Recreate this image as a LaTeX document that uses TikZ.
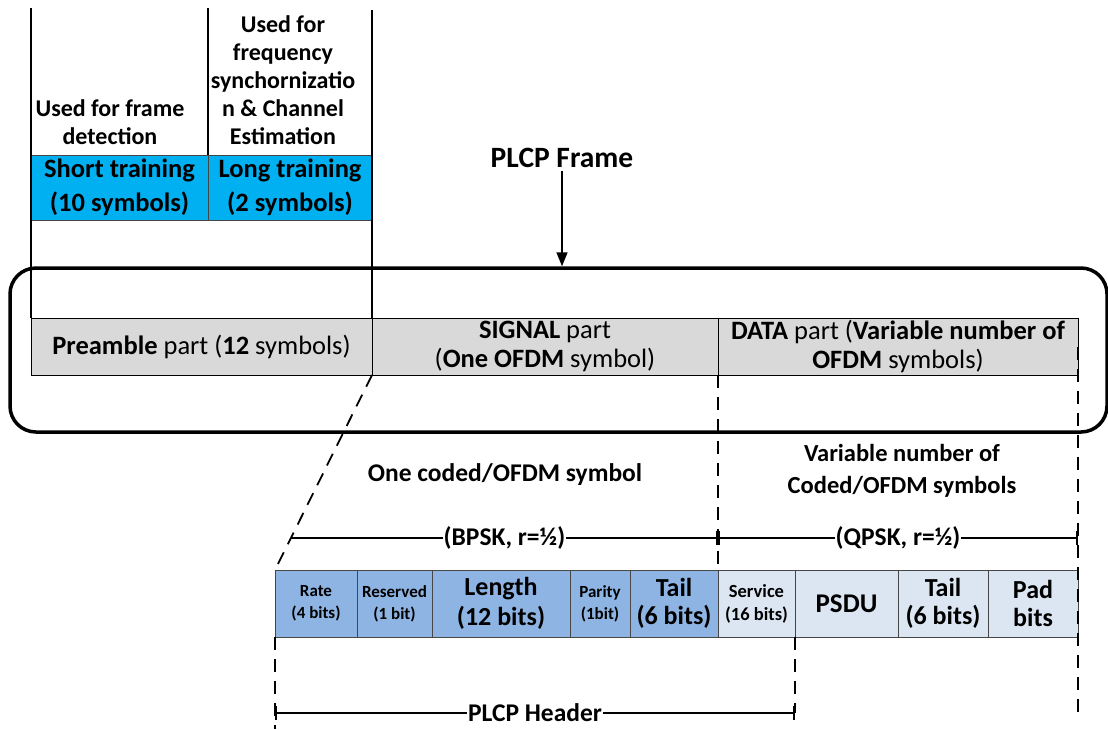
\documentclass[tikz,border=0pt]{standalone}
\usepackage{fontspec}
\setmainfont{Carlito}
\usepackage{tikz}
\usetikzlibrary{arrows.meta,positioning,calc}
\definecolor{plcyan}{RGB}{0,176,240}
\definecolor{plgray}{RGB}{217,217,217}
\definecolor{plblue}{RGB}{142,180,227}
\definecolor{pllight}{RGB}{220,230,242}
\definecolor{plborder}{RGB}{70,70,70}
\tikzstyle{arrow} = [line width=1.6pt,-{Triangle[length=14pt,width=11pt]}]
\tikzstyle{part} = [rectangle, draw=black, line width=1pt, fill=plgray, minimum height=57pt, outer sep=0pt, inner sep=0pt, align=center, font=\fontsize{26.5}{29}\selectfont]
\tikzstyle{training} = [rectangle, draw=plborder, line width=1pt, fill=plcyan, minimum height=65pt, outer sep=0pt, inner sep=0pt, align=center, font=\fontsize{26.5}{34}\selectfont\bfseries]
\tikzstyle{field} = [rectangle, draw=plborder, line width=1pt, fill=plblue, minimum height=67pt, outer sep=0pt, inner sep=0pt, align=center, font=\bfseries]
\tikzstyle{datafield} = [field, fill=pllight]
\tikzstyle{note} = [align=center, font=\fontsize{24}{28}\selectfont\bfseries]
\tikzstyle{guide} = [line width=1.8pt, dash pattern=on 13pt off 9pt]
\tikzstyle{dimline} = [line width=1.6pt]
\tikzstyle{dimlabel} = [fill=white, inner sep=1pt, font=\fontsize{25.5}{28}\selectfont\bfseries]

\begin{document}
\begin{tikzpicture}[x=1pt,y=-1pt]
\useasboundingbox (0,0) rectangle (1108,729);
% PLCP frame and its parts
\node (outer) [rectangle, draw, line width=3.5pt, rounded corners=26pt, minimum width=1097pt, minimum height=164pt] at (558.5,350) {};
\node (pre) [part, minimum width=341pt] at (201.5,346.5) {\textbf{Preamble} part (\textbf{12} symbols)};
\node (signal) [part, minimum width=346pt, right=0pt of pre] {\textbf{SIGNAL} part\\(\textbf{One OFDM} symbol)};
\node (data) [part, minimum width=360pt, right=0pt of signal] {\textbf{DATA} part (\textbf{Variable number of}\\\textbf{OFDM} symbols)};

% preamble detail
\node (short) [training, minimum width=177pt] at (119.5,187.5) {Short training\\(10 symbols)};
\node (long) [training, minimum width=164pt, right=0pt of short] {Long training\\(2 symbols)};
\coordinate (topL) at (31,8);
\coordinate (topM) at (208,8);
\coordinate (topR) at (372,10);
\draw[line width=1.6pt] (topL) -- (pre.north west);
\draw[line width=1.6pt] (topM) -- (short.north east);
\draw[line width=1.6pt] (topR) -- (pre.north east);
\node (detect) [note] at (110,122) {Used for frame\\detection};
\node (estim) [note] at (283,80) {Used for\\frequency\\synchornizatio\\n \& Channel\\Estimation};

\node (title) [font=\fontsize{29.5}{32}\selectfont\bfseries] at (562,158) {PLCP Frame};
\draw[arrow] (title.south) -- (title.south |- outer.north);

% fields
\node (rate) [field, minimum width=82pt, font=\fontsize{17}{22}\selectfont\bfseries] at (316,603.5) {Rate\\(4 bits)};
\node (reserved) [field, minimum width=75pt, right=0pt of rate, font=\fontsize{17}{22}\selectfont\bfseries] {Reserved\\(1 bit)};
\node (length) [field, minimum width=138pt, right=0pt of reserved, font=\fontsize{26}{30}\selectfont\bfseries] {Length\\(12 bits)};
\node (parity) [field, minimum width=60pt, right=0pt of length, font=\fontsize{17}{22}\selectfont\bfseries] {Parity\\(1bit)};
\node (tail) [field, minimum width=88pt, right=0pt of parity, font=\fontsize{26}{28}\selectfont\bfseries] {Tail\\(6 bits)};
\node (service) [datafield, minimum width=77pt, right=0pt of tail, font=\fontsize{18.5}{23}\selectfont\bfseries] {Service\\(16 bits)};
\node (psdu) [datafield, minimum width=103pt, right=0pt of service, font=\fontsize{27}{30}\selectfont\bfseries] {PSDU};
\node (tailb) [datafield, minimum width=90pt, right=0pt of psdu, font=\fontsize{26}{28}\selectfont\bfseries] {Tail\\(6 bits)};
\node (pad) [datafield, minimum width=90pt, right=0pt of tailb, font=\fontsize{26}{28}\selectfont\bfseries] {Pad\\bits};

% guides and spans
\coordinate (leftend) at (275,729);
\coordinate (hdrL) at (275,713);
\coordinate (hdrR) at (795,713);
\coordinate (rightend) at (1078,715);
\draw[guide] (signal.south west) -- (rate.north west);
\draw[guide] (data.south west) -- (service.north west);
\draw[guide] (data.east) -- (rightend);
\draw[guide] (rate.south west) -- (leftend);
\draw[guide] (service.south east) -- (hdrR);

\coordinate (bpskL) at ($(signal.south west)!0.836!(rate.north west)$);
\coordinate (bpskR) at (data.south west |- bpskL);
\coordinate (qpskR) at (data.east |- bpskL);
\draw[dimline, -{Bar[width=14pt]}] (bpskL) -- node[dimlabel] {(BPSK, r=½)} (bpskR);
\draw[dimline, {Bar[width=14pt]}-{Bar[width=14pt]}] (bpskR) -- node[dimlabel] {(QPSK, r=½)} (qpskR);
\draw[dimline, {Bar[width=14pt]}-{Bar[width=14pt]}] (hdrL) -- node[dimlabel] {PLCP Header} (hdrR);

\node (coded) [note, font=\fontsize{25.5}{30}\selectfont\bfseries] at (505,475) {One coded/OFDM symbol};
\node (varcoded) [note, font=\fontsize{24.5}{32}\selectfont\bfseries] at (902,471) {Variable number of\\Coded/OFDM symbols};
\end{tikzpicture}
\end{document}
